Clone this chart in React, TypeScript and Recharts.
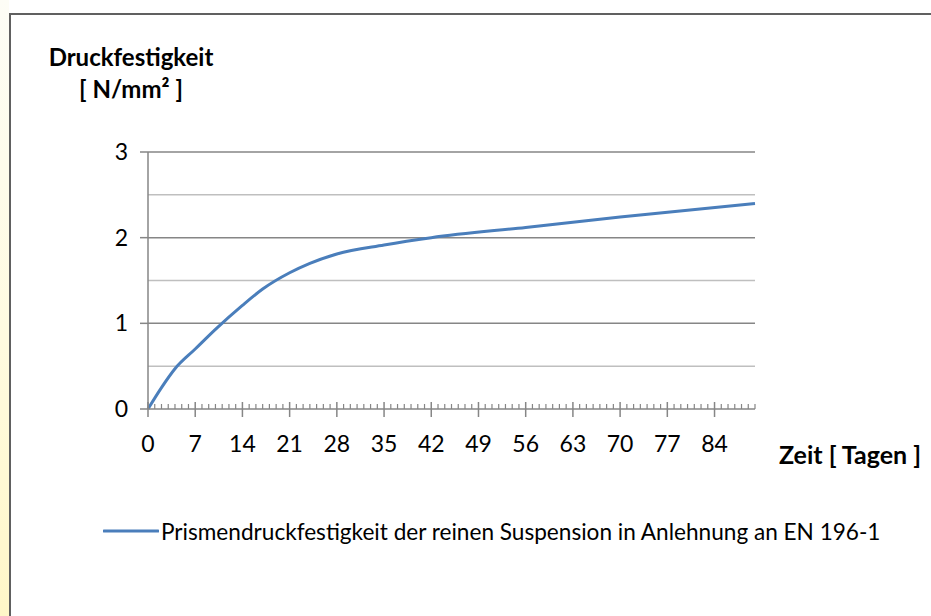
import { LineChart, Line, XAxis, YAxis, ReferenceLine } from 'recharts';

// Messwerte: Alter in Tagen / Druckfestigkeit in N/mm²
const days = [0, 2, 4, 7, 10, 14, 17, 21, 24, 28, 35, 42, 56, 70, 90];
const strength = [0, 0.25, 0.47, 0.7, 0.93, 1.21, 1.4, 1.59, 1.7, 1.81, 1.915, 2.0, 2.12, 2.24, 2.4];

const yTicks = [0, 1, 2, 3];
const majorGrid = [1, 2, 3];
const minorGrid = [0.5, 1.5, 2.5];
const majorDays = [0, 7, 14, 21, 28, 35, 42, 49, 56, 63, 70, 77, 84];
const lastDay = 90;

const seriesName = 'Prismendruckfestigkeit der reinen Suspension in Anlehnung an EN 196-1';

const data = days.map((d, i) => ({ day: d, value: strength[i] }));
const allDayTicks = Array.from({ length: lastDay + 1 }, (_, i) => i);

const FONT = 'Lato, "Open Sans", sans-serif';
const AXIS = '#868686';
const BLUE = '#4A7EBB';

const XTick = ({ x, y, payload }: any) => {
  const d = payload.value;
  const isMajor = majorDays.includes(d);
  return (
    <g>
      {isMajor ? (
        <line x1={x} x2={x} y1={y - 7} y2={y + 8} stroke={AXIS} strokeWidth={1.5} />
      ) : (
        <line x1={x} x2={x} y1={y - 5} y2={y} stroke={AXIS} strokeWidth={1.2} />
      )}
      {isMajor && (
        <text
          x={x}
          y={y + 34}
          textAnchor="middle"
          dominantBaseline="central"
          fontFamily={FONT}
          fontSize={23}
          fill="#000"
        >
          {d}
        </text>
      )}
    </g>
  );
};

export default function App() {
  return (
    <div
      style={{
        position: 'absolute',
        left: 0,
        top: 0,
        width: 931,
        height: 616,
        overflow: 'hidden',
        background: '#fff',
        fontFamily: FONT,
      }}
    >
      <style>{'html,body{margin:0;overflow:hidden;}'}</style>
      <div
        style={{
          position: 'absolute',
          left: 0,
          top: 0,
          width: 9,
          height: 616,
          background: 'linear-gradient(#fdfdf6, #fffbe0 55%, #fff7c8)',
        }}
      />
      <div
        style={{
          position: 'absolute',
          left: 9,
          top: 13,
          width: 1000,
          height: 700,
          borderLeft: '2px solid #606060',
          borderTop: '2px solid #606060',
        }}
      />
      <div style={{ position: 'absolute', left: 0, top: 0 }}>
        <LineChart
          width={931}
          height={616}
          data={data}
          margin={{ top: 152, right: 176, left: 88, bottom: 177 }}
        >
          {minorGrid.map((v) => (
            <ReferenceLine key={'m' + v} y={v} stroke="#BFBFBF" strokeWidth={1.5} />
          ))}
          {majorGrid.map((v) => (
            <ReferenceLine key={'M' + v} y={v} stroke={AXIS} strokeWidth={1.5} />
          ))}
          <XAxis
            dataKey="day"
            type="number"
            domain={[0, lastDay]}
            ticks={allDayTicks}
            interval={0}
            height={30}
            tickSize={0}
            tickMargin={0}
            tickLine={false}
            axisLine={{ stroke: AXIS, strokeWidth: 1.5 }}
            tick={<XTick />}
          />
          <YAxis
            type="number"
            domain={[0, 3]}
            ticks={yTicks}
            width={60}
            tickSize={8}
            tickMargin={12}
            tickLine={{ stroke: AXIS, strokeWidth: 1.5 }}
            axisLine={{ stroke: AXIS, strokeWidth: 1.5 }}
            tick={{ fill: '#000', fontSize: 23, fontFamily: FONT }}
          />
          <Line
            type="monotone"
            dataKey="value"
            stroke={BLUE}
            strokeWidth={3}
            dot={false}
            isAnimationActive={false}
          />
        </LineChart>
      </div>
      <div
        style={{
          position: 'absolute',
          left: 20,
          top: 41,
          width: 222,
          textAlign: 'center',
          fontWeight: 700,
          fontSize: 24,
          lineHeight: '32px',
          color: '#000',
        }}
      >
        Druckfestigkeit
        <br />[ N/mm² ]
      </div>
      <div
        style={{
          position: 'absolute',
          left: 779,
          top: 439,
          fontWeight: 700,
          fontSize: 25,
          lineHeight: '30px',
          color: '#000',
          whiteSpace: 'nowrap',
        }}
      >
        Zeit [ Tagen ]
      </div>
      <div
        style={{
          position: 'absolute',
          left: 103,
          top: 516,
          display: 'flex',
          alignItems: 'center',
          height: 30,
          whiteSpace: 'nowrap',
        }}
      >
        <svg width={56} height={10}>
          <line x1={1} x2={55} y1={5} y2={5} stroke={BLUE} strokeWidth={3} strokeLinecap="round" />
        </svg>
        <span style={{ fontSize: 22.6, color: '#000', marginLeft: 2 }}>{seriesName}</span>
      </div>
    </div>
  );
}
